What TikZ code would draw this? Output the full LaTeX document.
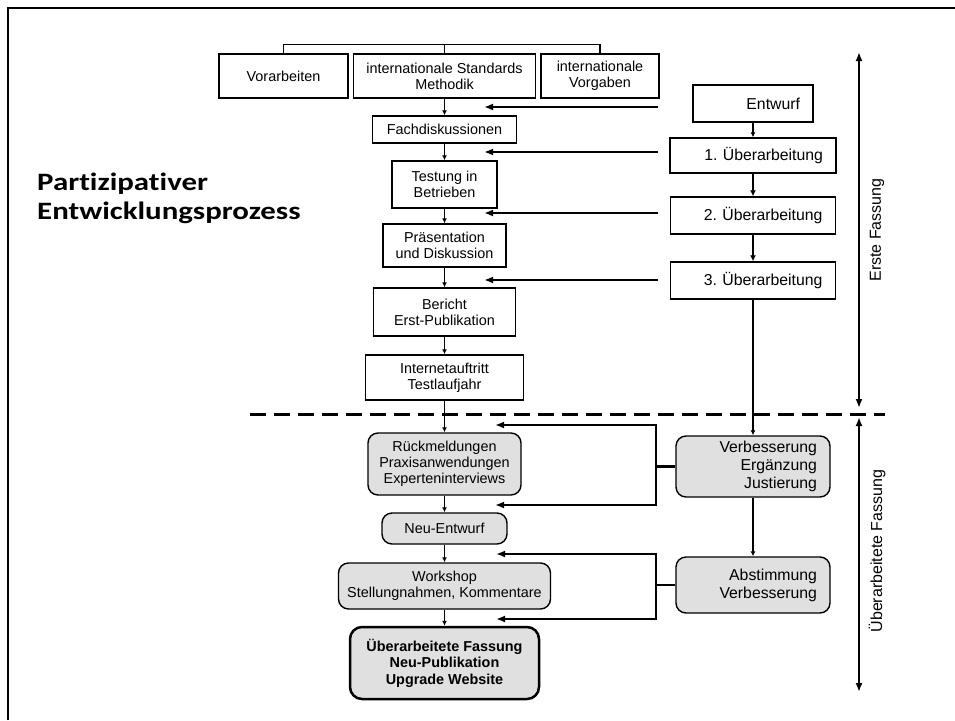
\documentclass[tikz,border=0pt]{standalone}
\usepackage{fontspec}
\setmainfont{Liberation Sans}
\newfontfamily\titlefont[FakeStretch=1.235,Ligatures=NoCommon]{Carlito}
\usetikzlibrary{arrows.meta}
\definecolor{boxgray}{HTML}{E0E0E0}
\frenchspacing

\begin{document}
\begin{tikzpicture}[x=1pt,y=-1pt,
  every node/.style={inner sep=0pt},
  lfont/.style={font=\fontsize{14.4}{16.2}\selectfont},
  rfont/.style={font=\fontsize{15.8}{18}\selectfont},
  box/.style={draw, line width=1.4pt, align=center, lfont},
  gbox/.style={box, fill=boxgray, rounded corners=10pt},
  rbox/.style={draw, line width=1.4pt, align=right, rfont, inner xsep=13pt},
  rgbox/.style={rbox, fill=boxgray, rounded corners=10pt},
  flow/.style={line width=1.2pt, -{Latex[length=5pt,width=5pt]}},
  flowb/.style={line width=2pt, -{Latex[length=6pt,width=6pt]}},
  feed/.style={line width=2.5pt, -{Latex[length=9pt,width=7pt]}},
  span/.style={line width=2pt, {Latex[length=9pt,width=7pt]}-{Latex[length=9pt,width=7pt]}},
  scalelabel/.style={rotate=90, font=\fontsize{16}{18}\selectfont},
  titletext/.style={anchor=base west, font=\titlefont\bfseries\fontsize{25}{29}\selectfont}
]
\useasboundingbox (0,0) rectangle (955,720);

% outer frame (top and left edges visible)
\draw[line width=2pt] (8,720) -- (8,8) -- (955,8);

% title
\node[titletext] (title1) at (37,190) {Partizipativer};
\node[titletext] (title2) at (37,219) {Entwicklungsprozess};

% top row of inputs
\node[box, minimum width=129pt, minimum height=44pt] (vor) at (283.5,76) {Vorarbeiten};
\node[box, minimum width=182pt, minimum height=44pt] (std) at (444.5,76) {internationale Standards\\Methodik};
\node[box, minimum width=118pt, minimum height=44pt] (vorg) at (600,76) {internationale\\Vorgaben};
\draw[line width=1.5pt] (vor.north) -- ++(0,-9) -| (vorg.north);
\draw[line width=1.5pt] (std.north) -- ++(0,-9);

% left column, first version
\node[box, minimum width=144pt, minimum height=27pt] (fach) at (444.5,129.5) {Fachdiskussionen};
\node[box, minimum width=105pt, minimum height=47pt] (test) at (444.5,184.5) {Testung in\\Betrieben};
\node[box, minimum width=123pt, minimum height=43pt] (praes) at (444.5,245.5) {Präsentation\\und Diskussion};
\node[box, minimum width=142pt, minimum height=48pt] (ber) at (444.5,312) {Bericht\\Erst-Publikation};
\node[box, minimum width=158pt, minimum height=45pt] (inet) at (444.5,377.5) {Internetauftritt\\Testlaufjahr};

% left column, revised version
\node[gbox, minimum width=153pt, minimum height=62pt] (rueck) at (444.5,464) {Rückmeldungen\\Praxisanwendungen\\Experteninterviews};
\node[gbox, minimum width=125pt, minimum height=31pt] (neu) at (444.5,528.5) {Neu-Entwurf};
\node[gbox, minimum width=212pt, minimum height=46pt] (work) at (444.5,586) {Workshop\\Stellungnahmen, Kommentare};
\node[gbox, line width=2.5pt, rounded corners=12pt, minimum width=189pt, minimum height=72pt, font=\bfseries\fontsize{14.4}{16.4}\selectfont] (final) at (444.5,663) {Überarbeitete Fassung\\Neu-Publikation\\Upgrade Website};

\draw[flow] (std.south) -- (fach.north);
\draw[flow] (fach.south) -- (test.north);
\draw[flow] (test.south) -- (praes.north);
\draw[flow] (praes.south) -- (ber.north);
\draw[flow] (ber.south) -- (inet.north);
\draw[flow] (inet.south) -- (rueck.north);
\draw[flow] (rueck.south) -- (neu.north);
\draw[flow] (neu.south) -- (work.north);
\draw[flow] (work.south) -- (final.north);

% right column
\node[rbox, text width=94pt, minimum height=37pt] (entw) at (753,103.5) {Entwurf};
\node[rbox, text width=140pt, minimum height=35pt] (ub1) at (753,155.5) {1. Überarbeitung};
\node[rbox, text width=139pt, minimum height=37pt] (ub2) at (753,215.5) {2. Überarbeitung};
\node[rbox, text width=139pt, minimum height=37pt] (ub3) at (753,280.5) {3. Überarbeitung};
\node[rgbox, text width=128pt, minimum height=61pt] (verb) at (753,466.5) {Verbesserung\\Ergänzung\\Justierung};
\node[rgbox, text width=128pt, minimum height=56pt] (abst) at (753,585) {Abstimmung\\Verbesserung};

\draw[flow] (entw.south) -- (ub1.north);
\draw[flowb] (ub1.south) -- (ub2.north);
\draw[flowb] (ub2.south) -- (ub3.north);
\draw[flow] (ub3.south) -- (verb.north);
\draw[flow] (verb.south) -- (abst.north);

% feedback from the drafts into the left column
\coordinate (f0s) at (658,107);  \coordinate (f0e) at (484,107);
\coordinate (f1s) at (658,152);  \coordinate (f1e) at (484,152);
\coordinate (f2s) at (658,213);  \coordinate (f2e) at (484,213);
\coordinate (f3s) at (658,280);  \coordinate (f3e) at (484,280);
\draw[feed] (f0s) -- (f0e);
\draw[feed] (f1s) -- (f1e);
\draw[feed] (f2s) -- (f2e);
\draw[feed] (f3s) -- (f3e);

% feedback loops of the revision
\coordinate (j1) at (656,466.5);
\coordinate (t1a) at (495,425);
\coordinate (t1b) at (495,505);
\draw[line width=2.5pt] (verb.west) -- (j1);
\draw[feed] (j1) |- (t1a);
\draw[feed] (j1) |- (t1b);

\coordinate (j2) at (656,585);
\coordinate (t2a) at (496,554);
\coordinate (t2b) at (496,619);
\draw[line width=2.5pt] (abst.west) -- (j2);
\draw[feed] (j2) |- (t2a);
\draw[feed] (j2) |- (t2b);

% dividing line between the two versions
\coordinate (d1) at (250,414);
\coordinate (d2) at (885,414);
\draw[line width=3pt, dash pattern=on 16pt off 8pt] (d1) -- (d2);

% phase spans
\coordinate (s1a) at (859,52);
\coordinate (s1b) at (859,408);
\coordinate (s2a) at (859,417);
\coordinate (s2b) at (859,692);
\draw[span] (s1a) -- (s1b);
\draw[span] (s2a) -- (s2b);
\node[scalelabel] (lab1) at (877,230) {Erste Fassung};
\node[scalelabel] (lab2) at (877,551) {Überarbeitete Fassung};
\end{tikzpicture}
\end{document}
